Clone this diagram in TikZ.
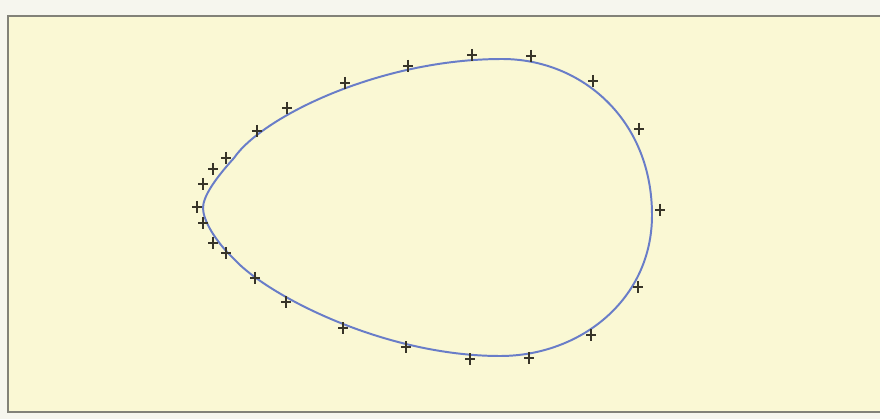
\documentclass[tikz,border=0pt]{standalone}
\definecolor{paper}{RGB}{250,248,212}
\definecolor{outside}{RGB}{246,246,238}
\definecolor{framegray}{RGB}{130,130,120}
\definecolor{curveblue}{RGB}{105,125,200}
\definecolor{markgray}{RGB}{55,52,40}
\tikzset{
  plusmark/.pic={\draw[markgray, line width=0.9pt] (-5,0) -- (5,0) (0,-6) -- (0,6);},
  fieldline/.style={curveblue, line width=1.4pt},
  framestyle/.style={framegray, line width=1.2pt}
}
\begin{document}
\begin{tikzpicture}[x=0.025cm,y=-0.025cm]
\useasboundingbox (0,0) rectangle (880,419);
\fill[outside] (0,0) rectangle (880,419);
\fill[paper] (8,16) rectangle (880,412);
\draw[framestyle] (880,16) -- (8,16) -- (8,412) -- (880,412);
\coordinate (L) at (203,208);
\coordinate (UL) at (234,158);
\coordinate (T) at (502,59);
\coordinate (R) at (652,215);
\coordinate (B) at (500,356);
\coordinate (LL) at (234,259);
\draw[fieldline] (L) .. controls (203,197) and (214,180) .. (UL)
  .. controls (262,117) and (380,59) .. (T)
  .. controls (582,59) and (652,120) .. (R)
  .. controls (652,300) and (580,356) .. (B)
  .. controls (385,356) and (268,296) .. (LL)
  .. controls (215,241) and (203,220) .. (L) -- cycle;
\foreach \px/\py [count=\i] in {
 197/207, 203/184, 213/169, 226/158, 257/131, 287/108, 345/83, 408/66, 472/55,
 531/56, 593/81, 639/129, 660/210, 638/287, 591/335, 529/358, 470/359, 406/347,
 343/328, 286/302, 255/278, 226/253, 213/243, 203/223}
  \pic (p\i) at (\px,\py) {plusmark};
\end{tikzpicture}
\end{document}
